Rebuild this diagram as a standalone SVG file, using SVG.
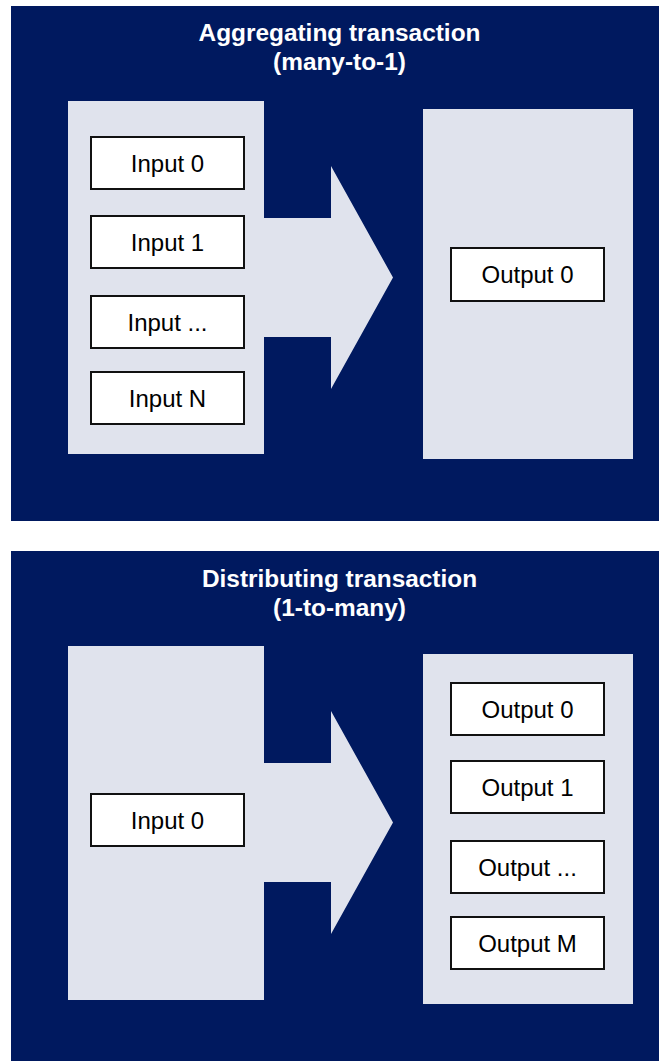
<svg xmlns="http://www.w3.org/2000/svg" width="659" height="1061" viewBox="0 0 659 1061">
<style>
.panel{fill:#00195F}
.area{fill:#E0E3ED}
.arrow{fill:#E0E3ED}
.box{fill:#FFFFFF;stroke:#111111;stroke-width:2}
.lbl{font-family:"Liberation Sans",Arial,sans-serif;font-size:24px;fill:#000;text-anchor:middle}
.title{font-family:"Liberation Sans",Arial,sans-serif;font-size:24.4px;font-weight:bold;fill:#FFFFFF;text-anchor:middle}
</style>
<rect width="659" height="1061" fill="#FFFFFF"/>
<g id="panel-aggregating">
  <rect class="panel" x="11" y="6" width="648" height="515"/>
  <text class="title" x="339.5" y="41">Aggregating transaction</text>
  <text class="title" x="339.5" y="70">(many-to-1)</text>
  <rect class="area" x="68" y="101" width="196" height="353"/>
  <rect class="area" x="423" y="109" width="210" height="350"/>
</g>
<g id="panel-distributing">
  <rect class="panel" x="11" y="551" width="648" height="510"/>
  <text class="title" x="339.5" y="587">Distributing transaction</text>
  <text class="title" x="339.5" y="616">(1-to-many)</text>
  <rect class="area" x="68" y="646" width="196" height="354"/>
  <rect class="area" x="423" y="654" width="210" height="350"/>
</g>
<g id="connectors">
  <polygon class="arrow" points="263,218 331,218 331,166 393,277.5 331,389 331,337 263,337"/>
  <polygon class="arrow" points="263,763 331,763 331,711 393,822.5 331,934 331,882 263,882"/>
</g>
<g id="agg-input-0"><rect class="box" x="91" y="137" width="153" height="52"/><text class="lbl" x="167.5" y="171.6">Input 0</text></g>
<g id="agg-input-1"><rect class="box" x="91" y="216" width="153" height="52"/><text class="lbl" x="167.5" y="250.6">Input 1</text></g>
<g id="agg-input-dots"><rect class="box" x="91" y="296" width="153" height="52"/><text class="lbl" x="167.5" y="330.6">Input ...</text></g>
<g id="agg-input-n"><rect class="box" x="91" y="372" width="153" height="52"/><text class="lbl" x="167.5" y="406.6">Input N</text></g>
<g id="agg-output-0"><rect class="box" x="451" y="248" width="153" height="53"/><text class="lbl" x="527.5" y="283.1">Output 0</text></g>
<g id="dist-input-0"><rect class="box" x="91" y="794" width="153" height="52"/><text class="lbl" x="167.5" y="828.6">Input 0</text></g>
<g id="dist-output-0"><rect class="box" x="451" y="683" width="153" height="52"/><text class="lbl" x="527.5" y="717.6">Output 0</text></g>
<g id="dist-output-1"><rect class="box" x="451" y="761" width="153" height="52"/><text class="lbl" x="527.5" y="795.6">Output 1</text></g>
<g id="dist-output-dots"><rect class="box" x="451" y="841" width="153" height="52"/><text class="lbl" x="527.5" y="875.6">Output ...</text></g>
<g id="dist-output-m"><rect class="box" x="451" y="917" width="153" height="52"/><text class="lbl" x="527.5" y="951.6">Output M</text></g>
</svg>
